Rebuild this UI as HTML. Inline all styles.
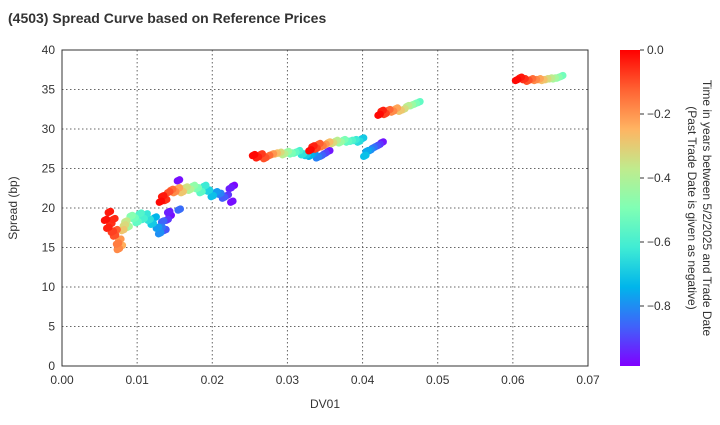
<!DOCTYPE html>
<html><head><meta charset="utf-8"><style>
body{margin:0;background:#fff;font-family:"Liberation Sans",sans-serif}
svg text{font-family:"Liberation Sans",sans-serif;fill:#333}
</style></head><body>
<svg id="c" width="720" height="420" xmlns="http://www.w3.org/2000/svg">
<defs><linearGradient id="rb" x1="0" y1="1" x2="0" y2="0">
<stop offset="0" stop-color="#8000ff"/><stop offset="0.125" stop-color="#4062fa"/><stop offset="0.25" stop-color="#00b5eb"/><stop offset="0.375" stop-color="#40ecd4"/><stop offset="0.5" stop-color="#80ffb4"/><stop offset="0.625" stop-color="#c0eb8d"/><stop offset="0.75" stop-color="#ffb462"/><stop offset="0.875" stop-color="#ff6232"/><stop offset="1" stop-color="#ff0000"/></linearGradient></defs>
<text x="8" y="23" font-size="14" font-weight="bold">(4503)   Spread Curve based on Reference Prices</text>
<g id="grid"></g><g id="pts"></g><g id="ax"></g>
<rect x="62" y="50" width="526" height="316" fill="none" stroke="#333" stroke-width="1"/>
<text x="325" y="408" font-size="12" text-anchor="middle">DV01</text>
<text transform="translate(17,208) rotate(-90)" font-size="12" text-anchor="middle">Spread (bp)</text>
<rect x="620" y="50" width="20" height="316" fill="url(#rb)"/>
<g id="cb"></g>
<text transform="translate(703,208) rotate(90)" font-size="12" text-anchor="middle">Time in years between 5/2/2025 and Trade Date</text>
<text transform="translate(688,208) rotate(90)" font-size="12" text-anchor="middle">(Past Trade Date is given as negative)</text>
</svg>
<script>
const xTicks=[0,0.01,0.02,0.03,0.04,0.05,0.06,0.07];
const xTickLabels=["0.00","0.01","0.02","0.03","0.04","0.05","0.06","0.07"];
const yTicks=[0,5,10,15,20,25,30,35,40];
const cTicks=[0,-0.2,-0.4,-0.6,-0.8];
const cTickLabels=["0.0","−0.2","−0.4","−0.6","−0.8"];
const dv01=[0.0058,0.0061,0.0063,0.0065,0.0067,0.0069,0.0070,0.0072,0.0074,0.0075,0.0077,0.0079,0.0081,0.0083,0.0085,0.0088,0.0092,0.0096,0.0100,0.0104,0.0108,0.0112,0.0116,0.0120,0.0124,0.0127,0.0130,0.0132,0.0134,0.0137,0.0140,0.0142,0.0144,
0.0131,0.0134,0.0138,0.0142,0.0146,0.0150,0.0155,0.0160,0.0165,0.0170,0.0175,0.0180,0.0185,0.0190,0.0195,0.0200,0.0205,0.0210,0.0215,0.0220,0.0224,0.0226,0.0228,0.0155,0.0156,
0.0255,0.0260,0.0265,0.0270,0.0275,0.0280,0.0285,0.0290,0.0295,0.0300,0.0305,0.0310,0.0315,0.0320,0.0325,0.0330,0.0335,0.0340,0.0345,0.0350,0.0355,
0.0330,0.0334,0.0338,0.0342,0.0346,0.0350,0.0355,0.0360,0.0365,0.0370,0.0375,0.0380,0.0385,0.0390,0.0395,0.0400,0.0403,0.0406,0.0410,0.0414,0.0418,0.0422,0.0426,
0.0422,0.0426,0.0430,0.0435,0.0440,0.0445,0.0450,0.0455,0.0460,0.0465,0.0470,0.0475,
0.0605,0.0610,0.0615,0.0620,0.0625,0.0630,0.0635,0.0640,0.0645,0.0650,0.0655,0.0660,0.0665];
const spread=[18.5,17.5,19.5,18.0,17.0,18.6,16.5,17.2,15.5,14.8,16.0,15.2,17.2,17.8,18.3,17.6,19.0,18.7,18.2,19.3,18.6,19.2,18.5,18.0,18.8,17.5,16.8,17.5,18.3,17.2,18.5,19.5,19.0,
20.8,21.5,21.0,22.0,22.3,22.0,22.5,22.0,22.6,22.3,22.8,22.5,22.0,22.8,22.2,21.5,22.0,21.8,21.3,21.6,22.5,20.8,22.8,23.5,19.8,
26.7,26.4,26.8,26.3,26.6,26.8,26.9,27.0,26.8,27.1,26.9,27.0,27.2,26.8,26.7,26.6,26.9,26.4,26.6,26.9,27.2,
27.3,27.8,27.5,28.1,27.8,28.0,28.3,28.2,28.5,28.3,28.6,28.4,28.5,28.6,28.4,28.8,26.6,27.2,27.3,27.6,27.8,28.0,28.3,
31.8,32.3,31.9,32.4,32.2,32.6,32.3,32.5,32.9,33.0,33.2,33.4,
36.2,36.5,36.3,36.1,36.3,36.2,36.3,36.2,36.3,36.4,36.4,36.5,36.7];
const timeYr=[-0.02,-0.04,-0.03,-0.06,-0.08,-0.05,-0.10,-0.12,-0.16,-0.18,-0.20,-0.24,-0.28,-0.32,-0.36,-0.42,-0.48,-0.52,-0.55,-0.58,-0.60,-0.63,-0.65,-0.70,-0.74,-0.78,-0.80,-0.83,-0.86,-0.88,-0.92,-0.95,-0.97,
-0.01,-0.03,-0.06,-0.10,-0.14,-0.18,-0.22,-0.28,-0.34,-0.40,-0.46,-0.50,-0.56,-0.62,-0.68,-0.72,-0.78,-0.82,-0.87,-0.92,-0.95,-0.97,-0.98,-0.97,-0.85,
-0.01,-0.04,-0.07,-0.10,-0.14,-0.20,-0.26,-0.32,-0.38,-0.44,-0.50,-0.55,-0.60,-0.65,-0.70,-0.74,-0.78,-0.82,-0.86,-0.90,-0.96,
-0.01,-0.04,-0.08,-0.12,-0.16,-0.20,-0.26,-0.32,-0.38,-0.44,-0.50,-0.55,-0.58,-0.62,-0.66,-0.70,-0.72,-0.76,-0.80,-0.84,-0.88,-0.92,-0.96,
-0.01,-0.04,-0.08,-0.13,-0.18,-0.22,-0.28,-0.33,-0.38,-0.44,-0.50,-0.55,
-0.01,-0.03,-0.06,-0.10,-0.14,-0.18,-0.22,-0.27,-0.32,-0.37,-0.42,-0.47,-0.52];
const NS="http://www.w3.org/2000/svg";
const X=v=>62+v/0.07*526, Y=v=>366-v/40*316;
const vmin=-0.9875, C=t=>50+(0-t)/(0-vmin)*316;
function rainbow(t){const x=(t-vmin)/(0-vmin);const r=Math.min(1,Math.abs(2*x-0.5)),g=Math.sin(Math.PI*x),b=Math.cos(Math.PI*x/2);
return `rgb(${Math.round(r*255)},${Math.round(g*255)},${Math.round(b*255)})`;}
function mk(tag,at,parent,txt){const e=document.createElementNS(NS,tag);for(const k in at)e.setAttribute(k,at[k]);if(txt!==undefined)e.textContent=txt;document.getElementById(parent).appendChild(e);return e;}
xTicks.forEach((v,i)=>{
 const g=mk('line',{x1:X(v),x2:X(v),y1:50,y2:366,stroke:'#666','stroke-dasharray':'1.5,2.5','stroke-width':1},'grid');
 
 
 const t=mk('text',{x:X(v),y:384,'font-size':12,'text-anchor':'middle'},'ax',xTickLabels[i]);
 
 
});
yTicks.forEach(v=>{
 const g=mk('line',{x1:62,x2:588,y1:Y(v),y2:Y(v),stroke:'#666','stroke-dasharray':'1.5,2.5','stroke-width':1},'grid');
 
 
 const t=mk('text',{x:55,y:Y(v)+4,'font-size':12,'text-anchor':'end'},'ax',String(v));
 
 
});
cTicks.forEach((v,i)=>{
 const l=mk('line',{x1:640,x2:644,y1:C(v),y2:C(v),stroke:'#333'},'cb');
 
 
 const t=mk('text',{x:647,y:C(v)+4,'font-size':12},'cb',cTickLabels[i]);
 
 
});
const order=dv01.map((_,i)=>i).sort((a,b)=>timeYr[a]-timeYr[b]);
order.forEach(i=>{
 [[-1.2,0.6],[1.2,-0.6],[0,0]].forEach(([dx,dy])=>{
 const p=mk('circle',{cx:X(dv01[i])+dx,cy:Y(spread[i])+dy,r:3.6,fill:rainbow(timeYr[i])},'pts');
 
 
 });
});
</script>
</body></html>
